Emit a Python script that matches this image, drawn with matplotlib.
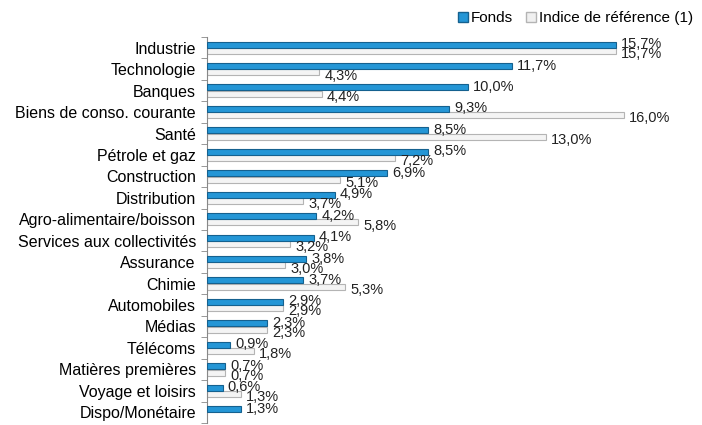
import matplotlib.pyplot as plt
from matplotlib.patches import Patch
import numpy as np

plt.rcParams['font.family'] = ['Liberation Sans', 'DejaVu Sans']

categories = ["Industrie", "Technologie", "Banques", "Biens de conso. courante", "Santé",
              "Pétrole et gaz", "Construction", "Distribution", "Agro-alimentaire/boisson",
              "Services aux collectivités", "Assurance", "Chimie", "Automobiles", "Médias",
              "Télécoms", "Matières premières", "Voyage et loisirs", "Dispo/Monétaire"]
fonds = [15.7, 11.7, 10.0, 9.3, 8.5, 8.5, 6.9, 4.9, 4.2, 4.1, 3.8, 3.7, 2.9, 2.3, 0.9, 0.7, 0.6, 1.3]
indice = [15.7, 4.3, 4.4, 16.0, 13.0, 7.2, 5.1, 3.7, 5.8, 3.2, 3.0, 5.3, 2.9, 2.3, 1.8, 0.7, 1.3, None]

fig = plt.figure(figsize=(7.02, 4.25), dpi=100)
ax = fig.add_axes([207 / 702, 1 - 423 / 425, (680 - 207) / 702, (423 - 37) / 425])

y = np.arange(len(categories))
h = 0.28
off = 0.15

ax.barh(y - off, fonds, height=h, color='#2496d6', edgecolor='#15618f', linewidth=0.8, zorder=3)
idx_y = [yy + off for yy, v in zip(y, indice) if v is not None]
idx_v = [v for v in indice if v is not None]
ax.barh(idx_y, idx_v, height=h, color='#f4f4f4', edgecolor='#b4b4b4', linewidth=0.8, zorder=2)

def fmt(v):
    return f"{v:.1f}%".replace('.', ',')

for yy, v in zip(y, fonds):
    ax.text(v + 0.2, yy - off - 0.02, fmt(v), va='center', ha='left', fontsize=10.5, color='#222222')
for yy, v in zip(y, indice):
    if v is None:
        continue
    ax.text(v + 0.2, yy + off + 0.15, fmt(v), va='center', ha='left', fontsize=10.5, color='#222222')

ax.set_ylim(len(categories) - 0.5, -0.5)
ax.set_xlim(0, (680 - 207) / 26.05)
ax.set_yticks(y)
ax.set_yticklabels(categories, fontsize=11.5)
ax.set_yticks(np.arange(-0.5, len(categories), 1), minor=True)
ax.tick_params(axis='y', which='major', length=0, pad=8)
ax.tick_params(axis='y', which='minor', length=4, color='#888888', direction='out')
ax.set_xticks([])
for s in ['top', 'right', 'bottom']:
    ax.spines[s].set_visible(False)
ax.spines['left'].set_color('#888888')

handles = [Patch(facecolor='#2496d6', edgecolor='#15618f'),
           Patch(facecolor='#f0f0f0', edgecolor='#b4b4b4')]
fig.legend(handles, ["Fonds", "Indice de référence (1)"], loc='upper right',
           bbox_to_anchor=(1.0, 0.995), ncol=2, frameon=False, fontsize=11,
           handlelength=0.6, handleheight=0.6, handletextpad=0.2, columnspacing=0.9,
           borderaxespad=0.2)

fig.savefig('out.png', dpi=100)
